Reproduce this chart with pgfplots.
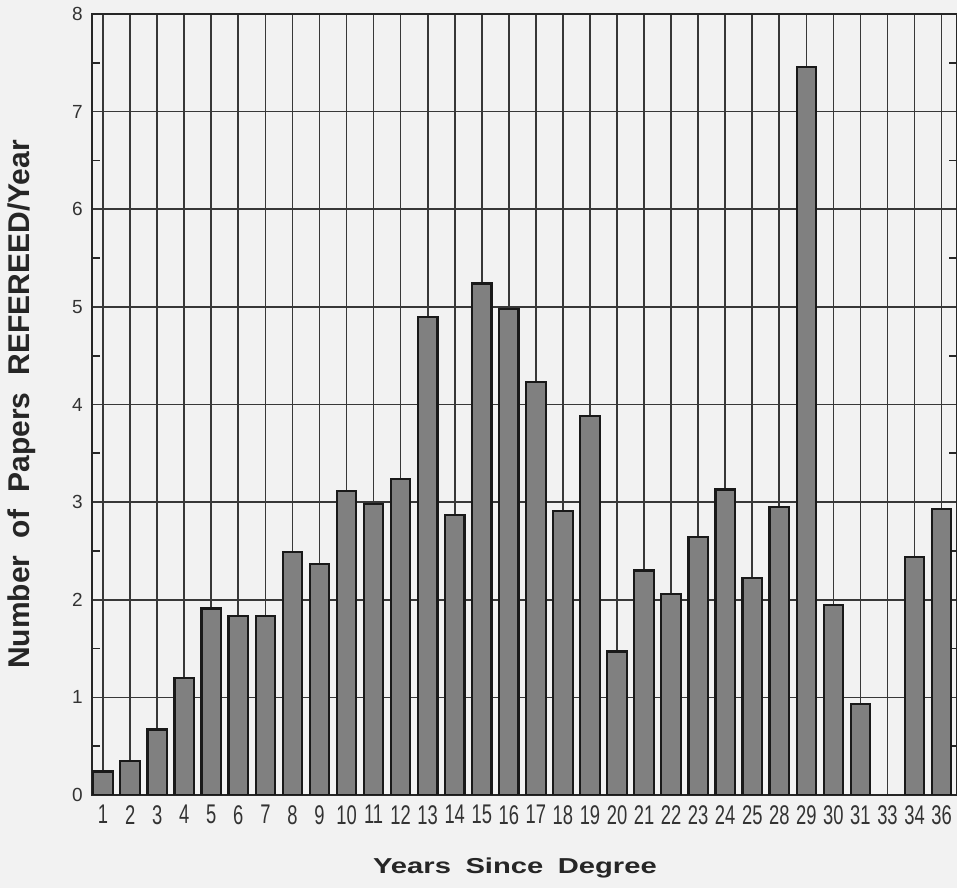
\documentclass[border=0pt]{standalone}
\usepackage{fontspec}
\setmainfont{Liberation Sans}
\newfontfamily\ticknarrow[FakeStretch=0.68]{Liberation Sans}
\newfontfamily\labelwide[FakeStretch=1.35]{Liberation Sans}
\usepackage{pgfplots}
\usepackage{pgfplotstable}
\pgfplotsset{compat=1.18}
\usetikzlibrary{backgrounds}

\pgfplotstableread{
idx val
1 0.24
2 0.35
3 0.67
4 1.20
5 1.91
6 1.83
7 1.83
8 2.49
9 2.37
10 3.11
11 2.98
12 3.24
13 4.90
14 2.87
15 5.24
16 4.98
17 4.23
18 2.91
19 3.88
20 1.47
21 2.30
22 2.06
23 2.64
24 3.13
25 2.22
26 2.95
27 7.46
28 1.95
29 0.93
31 2.44
32 2.93
}\papers

\begin{document}
\begin{tikzpicture}
\begin{axis}[
  scale only axis,
  width=432.5pt, height=390.5pt,
  xmin=0.59, xmax=32.57, ymin=0, ymax=8,
  ybar, bar width=9.75pt, bar shift=0pt,
  xtick={1,...,32},
  xticklabels={1,2,3,4,5,6,7,8,9,10,11,12,13,14,15,16,17,18,19,20,21,22,23,24,25,28,29,30,31,33,34,36},
  ytick={0,...,8},
  minor y tick num=1,
  xmajorgrids, ymajorgrids,
  grid style={draw=black!78, line width=0.85pt},
  axis line style={line width=1pt, draw=black!85},
  tick align=inside,
  ytick pos=both,
  xtick style={draw=none},
  major y tick style={line width=0.85pt, draw=black!78},
  minor y tick style={line width=0.85pt, draw=black!85},
  minor tick length=4pt,
  /pgf/number format/assume math mode=true,
  yticklabel style={font=\fontsize{9.5}{11}\selectfont, inner sep=0pt, xshift=-4.5pt, text=black!80},
  xticklabel style={font=\ticknarrow\fontsize{13.5}{14}\selectfont, inner sep=0pt, yshift=-5pt, text=black!80},
  xlabel={\labelwide\bfseries Years\hspace{0.3em} Since\hspace{0.3em} Degree},
  xlabel style={at={(axis description cs:0.489,-0.0935)}, anchor=center, font=\fontsize{10.8}{12}\selectfont, text=black!85},
  ylabel={\bfseries Number\hspace{0.3em} of\hspace{0.3em} Papers\hspace{0.3em} REFEREED/Year},
  ylabel style={at={(axis description cs:-0.0809,0.5)}, anchor=center, font=\fontsize{15}{17}\selectfont, text=black!85},
]
\addplot[fill=black!50, draw=black!90, line width=1.1pt] table[x=idx, y=val] {\papers};
\end{axis}
\pgfresetboundingbox
\path[use as bounding box] ([xshift=-46pt,yshift=-46.5pt]current axis.south west) rectangle ([yshift=7pt]current axis.north east);
\begin{scope}[on background layer]
\fill[black!5] ([xshift=-46pt,yshift=-46.5pt]current axis.south west) rectangle ([yshift=7pt]current axis.north east);
\end{scope}
\end{tikzpicture}
\end{document}
